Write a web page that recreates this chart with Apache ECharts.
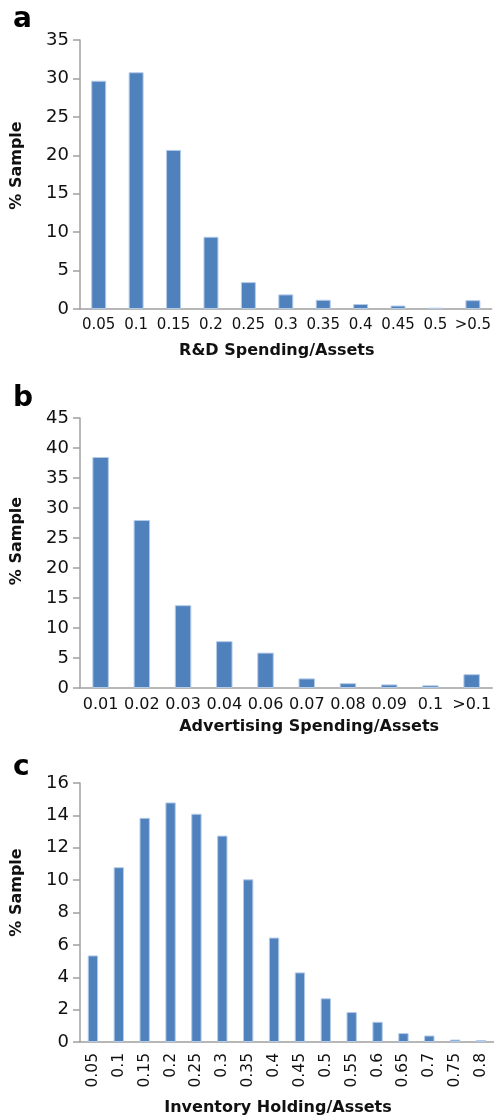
<!DOCTYPE html>
<html><head><meta charset="utf-8">
<script src="https://cdn.jsdelivr.net/npm/echarts@6/dist/echarts.min.js"></script>
<style>html,body{margin:0;padding:0;background:#fff}#c{width:494px;height:1119px}</style>
</head><body><div id="c"></div>
<script>
const catsA = ['0.05','0.1','0.15','0.2','0.25','0.3','0.35','0.4','0.45','0.5','>0.5'];
const valsA = [29.7,30.8,20.7,9.4,3.5,1.9,1.2,0.65,0.45,0.17,1.15];
const catsB = ['0.01','0.02','0.03','0.04','0.06','0.07','0.08','0.09','0.1','>0.1'];
const valsB = [38.5,28.0,13.8,7.8,5.9,1.6,0.8,0.6,0.45,2.3];
const catsC = ['0.05','0.1','0.15','0.2','0.25','0.3','0.35','0.4','0.45','0.5','0.55','0.6','0.65','0.7','0.75','0.8'];
const valsC = [5.35,10.8,13.85,14.8,14.1,12.75,10.05,6.45,4.3,2.7,1.85,1.25,0.55,0.4,0.15,0.12];
const xNames = ['R&D Spending/Assets','Advertising Spending/Assets','Inventory Holding/Assets'];
const yName = '% Sample';
const panelLetters = ['a','b','c'];
const yMax = [35,45,16];
const yStep = [5,5,2];

const FONT = 'DejaVu Sans';
const AXIS = '#a0a0a0';
const grids = [
  {left:80, right:0, top:40, height:269},
  {left:80, right:0, top:418, height:270},
  {left:80, right:0, top:783, height:259}
];
const cats = [catsA,catsB,catsC];
const vals = [valsA,valsB,valsC];
const xNameGap = [34,31,58];
const xNamePad = [[0,18,0,0],[0,0,0,46],[0,18,0,0]];
const yNamePad = [[0,0,0,18],[0,0,0,24],[0,0,0,40]];
const xLabelSize = [15,16,15.5];

const option = {
  animation:false,
  grid: grids,
  xAxis: grids.map((g,i)=>({
    type:'category', gridIndex:i, data:cats[i],
    axisLine:{show:true,lineStyle:{color:AXIS,width:1.5}},
    axisTick:{show:false},
    axisLabel:{interval:0, color:'#111', fontFamily:FONT, fontSize:xLabelSize[i], margin:i===2?11:9, rotate:i===2?90:0},
    name:xNames[i], nameLocation:'middle', nameGap:xNameGap[i],
    nameTextStyle:{fontFamily:FONT, fontWeight:'bold', fontSize:16, color:'#111', padding:xNamePad[i]}
  })),
  yAxis: grids.map((g,i)=>({
    type:'value', gridIndex:i, min:0, max:yMax[i], interval:yStep[i],
    axisLine:{show:true,lineStyle:{color:AXIS,width:1.5}},
    axisTick:{show:true,length:7,lineStyle:{color:AXIS,width:1.5}},
    splitLine:{show:false},
    axisLabel:{color:'#111', fontFamily:FONT, fontSize:18, margin:11},
    name:yName, nameLocation:'middle', nameGap:55, nameRotate:90,
    nameTextStyle:{fontFamily:FONT, fontWeight:'bold', fontSize:16, color:'#111', padding:yNamePad[i]}
  })),
  series: grids.map((g,i)=>({
    type:'bar', xAxisIndex:i, yAxisIndex:i, data:vals[i], barWidth:'40%',
    itemStyle:{color:'#4F81BD', borderColor:'#b4cbe8', borderWidth:1}
  })),
  graphic: panelLetters.map((t,i)=>({
    type:'text', left:13, top:[6,385,754][i],
    style:{text:t, fontFamily:FONT, fontWeight:'bold', fontSize:28, fill:'#000'}
  }))
};
echarts.init(document.getElementById('c')).setOption(option);
</script></body></html>
